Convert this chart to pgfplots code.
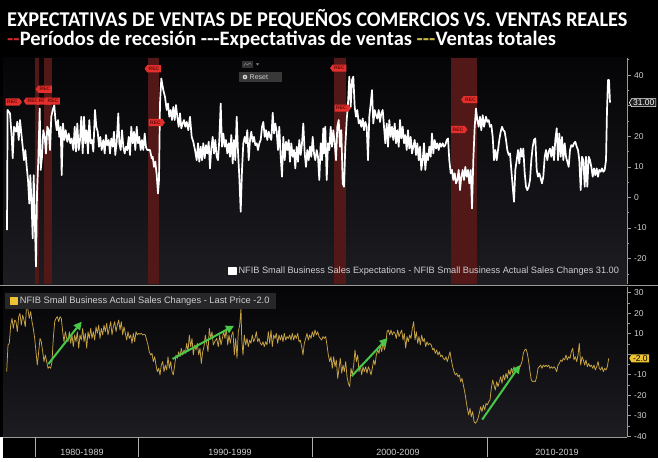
\documentclass[border=0pt]{standalone}
\usepackage{pgfplots}
\pgfplotsset{compat=1.18}
\usepackage{fontspec}
\setmainfont{Liberation Sans}
\newfontfamily\titlefont{Carlito}
\usetikzlibrary{shapes.symbols,arrows.meta}
\definecolor{bgtop}{HTML}{050507}
\definecolor{bgbot}{HTML}{1C1C21}
\definecolor{band}{HTML}{521818}
\definecolor{recred}{HTML}{E3302C}
\definecolor{recdark}{HTML}{6A0A0A}
\definecolor{gold}{HTML}{C9A445}
\definecolor{goldbox}{HTML}{EDC233}
\definecolor{axgray}{HTML}{9A9A9A}
\definecolor{txtgray}{HTML}{CFCFCF}
\definecolor{legbox}{HTML}{27272A}
\definecolor{arrowgreen}{HTML}{48C848}
\definecolor{titlered}{HTML}{D02828}
\definecolor{titleyellow}{HTML}{C8B84A}
\tikzset{rec/.style={shape=signal, fill=recred, draw=none, inner xsep=1.6pt, inner ysep=1.8pt,
  font=\fontsize{5}{5}\selectfont\bfseries, text=recdark, signal pointer angle=110}}
\begin{document}
\begin{tikzpicture}[x=1pt,y=1pt]
\useasboundingbox (0,0) rectangle (658,461);
\fill[black] (0,0) rectangle (658,461);
\shade[top color=bgtop, bottom color=bgbot] (3,177) rectangle (627,403);
\shade[top color=bgtop, bottom color=bgbot] (3,24) rectangle (627,174);
% titles
\node[anchor=base west, inner sep=0, text=white] at (7,434.3)
  {\scalebox{0.97}[1]{\titlefont\bfseries\fontsize{21}{21}\selectfont EXPECTATIVAS DE VENTAS DE PEQUEÑOS COMERCIOS VS. VENTAS REALES}};
\node[anchor=base west, inner sep=0] at (7,415.3)
  {\titlefont\bfseries\fontsize{20.5}{21}\selectfont\textcolor{titlered}{-{}-}\textcolor{white}{Períodos de recesión -{}-{}-Expectativas de ventas }\textcolor{titleyellow}{-{}-{}-}\textcolor{white}{Ventas totales}};

% ---------------- top panel ----------------
\begin{axis}[
  at={(3pt,177pt)}, anchor=south west, width=624pt, height=226pt, scale only axis,
  xmin=3, xmax=627, ymin=-28.3, ymax=45.6,
  axis line style={draw=none},
  xtick=\empty,
  ytick={-20,-10,0,10,20,30,40}, yticklabels={-20,-10,0,10,20,{},40},
  minor ytick={-25,-15,-5,5,15,25,35,45},
  ytick pos=right, yticklabel pos=right, tick align=outside,
  major tick length=4pt, minor tick length=2pt,
  tick style={axgray, line width=0.7pt},
  yticklabel style={font=\fontsize{8.5}{9}\selectfont, text=txtgray, inner sep=1pt, xshift=2pt},
  clip=false,
  legend style={at={(rel axis cs:0.36,0.058)}, anchor=west, fill=none, draw=none,
    text=txtgray, font=\fontsize{9.2}{10}\selectfont, inner sep=0pt},
  legend image code/.code={\fill[white] (0pt,-3.5pt) rectangle (7pt,3.5pt);},
]
% recession bands
\addplot[fill=band, draw=none, forget plot] coordinates {(35,-28.3) (39,-28.3) (39,45.6) (35,45.6)} --cycle;
\addplot[fill=band, draw=none, forget plot] coordinates {(44.3,-28.3) (51.7,-28.3) (51.7,45.6) (44.3,45.6)} --cycle;
\addplot[fill=band, draw=none, forget plot] coordinates {(148.3,-28.3) (159.3,-28.3) (159.3,45.6) (148.3,45.6)} --cycle;
\addplot[fill=band, draw=none, forget plot] coordinates {(334,-28.3) (346,-28.3) (346,45.6) (334,45.6)} --cycle;
\addplot[fill=band, draw=none, forget plot] coordinates {(451,-28.3) (476.7,-28.3) (476.7,45.6) (451,45.6)} --cycle;
% sales expectations
\addplot[white, line width=1.7pt, line join=round] coordinates {
(7.0,-10.7)(7.6,28.6)(10.0,27.5)(11.7,19.8)(12.7,12.8)(14.0,23.1)(16.0,21.5)(17.3,24.8)(18.7,18.8)(20.0,25.3)
(21.7,19.8)(22.7,16.6)(24.0,12.2)(25.3,15.5)(26.7,10)(28.0,5.7)(29.3,-2)(30.3,7.3)(31.7,-3)(32.7,-13.4)
(33.7,7.3)(34.7,-6.3)(36.0,-22.6)(37.0,1.3)(38.3,12.2)(39.7,29.1)(40.7,9)(42.0,13.3)(43.3,22)(44.7,19.8)
(46.0,14.4)(47.3,23.1)(48.7,22)(50.0,15.5)(51.3,26.4)(52.7,28.6)(54.3,30.2)(55.3,25.8)(56.7,22)(58.0,25.3)
(59.3,19.8)(60.7,23.1)(61.7,7.3)(63.0,24.2)(64.3,18.8)(65.7,22)(67.3,18.2)(68.7,20.9)(70.3,17.7)(71.7,19.3)
(73.3,15.5)(74.7,23.1)(76.0,15)(77.3,24.2)(78.7,15.5)(80.0,18.8)(81.3,26.4)(82.7,14.4)(84.0,26.4)(85.3,17.7)
(86.7,22)(88.0,14.4)(89.3,25.3)(90.7,17.7)(92.0,18.8)(93.3,15)(95.0,28.6)(96.3,23.1)(97.7,21.5)(99.0,16.6)
(100.3,19.8)(101.7,15.5)(103.3,18.8)(104.7,14.4)(106.0,20.4)(107.3,17.1)(108.7,18.8)(110.0,14.4)(111.3,19.3)(112.7,16.6)
(114.0,21.5)(115.3,13.9)(116.7,18.2)(118.3,27.5)(119.3,17.7)(120.7,15.5)(122.0,22)(123.3,16.6)(124.7,14.4)(126.0,16.6)
(127.3,15.5)(128.7,19.8)(130.0,13.9)(131.3,23.1)(132.7,17.7)(134.0,21.5)(135.3,15.5)(136.7,23.1)(138.0,17.7)(139.3,19.8)
(140.7,15.5)(142.0,18.8)(143.3,15.5)(144.7,20.9)(146.0,16.4)(147.3,15.5)(148.7,15.5)(150.0,15.5)(151.7,12.8)(152.7,13.3)
(154.0,10)(155.3,11.7)(156.7,7.3)(158.0,1.3)(159.0,5.7)(160.0,30.7)(161.3,38.9)(163.3,35.1)(165.0,32.9)(166.7,28.6)
(168.0,30.7)(169.3,26.4)(170.7,28.6)(172.0,25.3)(173.3,29.6)(174.7,25.3)(176.0,30.2)(177.3,26.4)(178.7,23.1)(180.0,27.5)
(181.3,22.6)(182.7,24.2)(184.0,25.3)(185.3,23.1)(186.7,24.7)(188.3,22)(190.0,26.4)(191.7,19.8)(193.3,18.2)(195.0,15.5)
(196.7,12.2)(198.0,17.7)(199.3,11.7)(200.7,16.6)(202.0,12.2)(203.3,17.7)(204.7,12.8)(206.0,17.1)(207.3,14.4)(208.7,18.2)
(210.0,9.5)(211.3,16)(212.7,19.8)(214.0,14.4)(215.3,18.8)(216.7,13.3)(218.0,12.2)(219.3,18.8)(220.7,30.7)(222.0,16.6)
(223.3,20.9)(224.7,16.6)(226.0,18.8)(227.3,14.4)(228.7,17.7)(230.0,13.3)(231.3,20.4)(232.7,11.1)(234.0,18.8)(235.3,12.2)
(236.7,26.4)(238.0,15)(239.3,6.8)(240.7,-4.7)(242.0,9)(243.3,17.7)(244.7,19.8)(246.0,17.7)(247.3,22)(248.7,12.2)
(250.0,18.8)(251.3,21.5)(252.7,18.2)(254.0,19.8)(255.3,17.1)(256.7,17.7)(258.0,15.5)(259.3,17.7)(260.7,18.8)(262.0,23.1)
(263.3,24.7)(264.7,19.8)(266.0,22)(267.3,18.8)(268.7,21.5)(270.0,19.8)(271.3,18.8)(272.7,27.7)(274.0,20.9)(275.3,24.2)
(276.7,21.5)(278.0,15.5)(279.3,23.1)(280.7,13.3)(282.0,6.8)(283.3,19.8)(284.7,12.2)(286.0,18.2)(287.3,15.5)(288.7,18.8)
(290.0,11.7)(291.3,17.7)(292.7,13.3)(294.0,15.5)(295.3,9.5)(296.7,16.6)(298.0,11.7)(299.3,18.8)(300.7,13.9)(302.0,17.7)
(303.3,24.2)(304.7,14.4)(306.0,10)(307.3,15.5)(308.7,12.2)(310.0,16.6)(311.3,13.3)(312.7,19.8)(314.0,14.4)(315.3,12.2)
(316.7,15.5)(318.0,13.3)(319.3,5.7)(320.7,17.7)(322.0,12.2)(323.3,22.6)(324.0,14.4)(325.3,23.1)(326.7,5.7)(328.0,17.7)
(329.3,15.5)(330.7,23.1)(332.0,16.6)(333.3,22)(334.7,17.7)(336.0,12.2)(337.3,23.1)(338.7,25.3)(340.0,16.6)(341.3,22)
(342.7,4.6)(344.0,3.5)(345.3,16.6)(346.7,25.3)(348.0,30.7)(349.3,39.5)(350.7,29.6)(352.0,38.4)(353.3,39.5)(354.7,29.6)
(356.0,26.4)(357.3,28.6)(358.7,24.2)(360.0,25.3)(361.3,23.1)(362.7,25.8)(364.0,22)(365.3,24.7)(366.7,23.1)(368.0,12.2)
(369.3,26.4)(370.7,30.7)(372.0,35.1)(373.3,24.2)(374.7,28.6)(376.0,26.9)(377.3,25.8)(378.7,28.6)(380.0,24.7)(381.3,27.5)
(382.7,28.6)(384.0,23.1)(385.3,17.7)(386.7,24.2)(388.0,16.6)(389.3,25.3)(390.7,19.8)(392.0,23.1)(393.3,18.8)(394.7,24.2)
(396.0,17.7)(397.3,22)(398.7,16.6)(400.0,25.3)(401.3,19.3)(402.7,23.1)(404.0,17.7)(405.3,20.4)(406.7,15.5)(408.0,22)
(409.3,16)(410.7,19.8)(412.0,14.4)(413.3,16.6)(414.7,18.8)(416.0,13.9)(417.3,17.7)(418.7,12.2)(420.0,16.6)(421.3,9)
(422.7,12.2)(424.0,17.7)(425.3,9)(426.7,14.4)(428.0,12.2)(429.3,16.6)(430.7,13.3)(432.0,20.9)(433.3,14.4)(434.7,18.8)
(436.0,16)(437.3,17.7)(438.7,15.5)(440.0,17.7)(441.3,16.6)(442.7,17.7)(444.0,16.6)(445.3,17.1)(446.7,18.8)(448.0,19.3)
(449.3,12.2)(450.7,7.9)(452.0,9)(453.3,5.7)(454.7,7.9)(456.0,4.6)(457.3,5.7)(458.7,9)(460.0,2.4)(461.3,6.8)
(462.7,9)(464.0,5.7)(465.3,10)(466.7,6.8)(468.0,9)(469.3,4.6)(470.7,9)(472.0,-3.6)(473.3,12.2)(474.7,23.1)
(476.0,29.1)(477.3,25.3)(478.7,23.1)(480.0,26.4)(481.3,22)(482.7,26.9)(484.0,23.1)(486.0,26.4)(487.3,24.7)(488.7,25.3)
(490.0,23.1)(491.3,23.7)(492.7,19.8)(494.0,12.2)(495.3,15.5)(496.7,12.2)(498.0,15.5)(499.3,18.8)(500.7,21.5)(502.0,23.1)
(503.3,22)(504.7,21.5)(506.0,18.8)(507.3,15.5)(508.7,13.9)(510.0,14.4)(511.3,9)(512.7,3.5)(514.0,-1.4)(515.3,9)
(516.7,12.2)(518.0,15.5)(519.3,11.1)(520.7,16)(522.0,13.3)(523.3,16)(524.7,7.9)(526.0,3.5)(527.3,2.4)(528.7,3.5)
(530.0,5.7)(531.3,12.2)(532.7,16.6)(534.0,18.8)(535.3,19.3)(536.7,9)(538.0,6.8)(539.3,7.9)(540.7,6.2)(542.0,4.6)
(543.3,6.8)(544.7,13.3)(546.0,15.5)(547.3,12.2)(548.7,15)(550.0,16)(551.3,13.3)(552.7,16.6)(554.0,12.2)(555.3,18.8)
(556.7,22.6)(558.0,12.2)(559.3,20.9)(560.7,13.3)(562.0,19.8)(563.3,12.2)(564.7,17.7)(566.0,13.3)(567.3,11.7)(568.7,10)
(570.0,15.5)(571.3,17.1)(572.7,16.6)(574.0,17.7)(575.3,18.2)(576.7,16.6)(578.0,15.5)(579.3,12.2)(580.7,2.4)(582.0,13.3)
(583.3,12.2)(584.7,3.5)(586.0,13.3)(587.3,3.5)(588.7,13.3)(590.0,12.2)(591.3,10)(592.7,6.8)(594.0,9.5)(595.3,7.3)
(596.7,9.5)(598.0,6.8)(599.3,9)(600.7,8.4)(602.0,9.5)(603.3,8.4)(604.7,9)(606.0,12.2)(607.0,28.6)(608.0,38.4)
(609.0,38.4)(610.0,31.0)};
\addlegendentry{NFIB Small Business Sales Expectations - NFIB Small Business Actual Sales Changes 31.00}
% REC tags
\node[rec, signal to=east] at (axis cs:12.5,31.2) {REC};
\node[rec, signal to=west] at (axis cs:33,31.5) {REC};
\node[rec, signal to=east] at (axis cs:44,31.5) {REC};
\node[rec, signal to=west] at (axis cs:53,31.5) {REC};
\node[rec, signal to=west] at (axis cs:45,35.4) {REC};
\node[rec, signal to=west] at (axis cs:154,42.1) {REC};
\node[rec, signal to=east] at (axis cs:155.5,24.5) {REC};
\node[rec, signal to=west] at (axis cs:339.5,42.3) {REC};
\node[rec, signal to=east] at (axis cs:341.5,29.2) {REC};
\node[rec, signal to=east] at (axis cs:458,22.2) {REC};
\node[rec, signal to=west] at (axis cs:470.5,32) {REC};
\draw[axgray, line width=0.8pt] (rel axis cs:1,0) -- (rel axis cs:1,1);
\coordinate (lastT) at (axis cs:629,31);
\end{axis}

% ---------------- bottom panel ----------------
\begin{axis}[
  at={(3pt,24pt)}, anchor=south west, width=624pt, height=150pt, scale only axis,
  xmin=3, xmax=627, ymin=-40.4, ymax=32.8,
  axis line style={draw=none},
  xtick=\empty,
  minor xtick={12,23.4,46.6,58.2,69.8,81.4,93,104.6,116.2,127.8,
    155.5,172.9,190.4,207.8,225.3,242.7,260.2,277.6,295.1,
    330,347.4,364.8,382.3,399.7,417.2,434.6,452.1,469.5,
    504.5,521.9,539.4,556.8,574.3,591.7,609.2},
  xtick pos=bottom,
  ytick={-40,-30,-20,-10,0,10,20,30}, yticklabels={-40,-30,-20,-10,{},10,20,30},
  minor ytick={-35,-25,-15,-5,5,15,25},
  ytick pos=right, yticklabel pos=right, tick align=outside,
  major tick length=4pt, minor tick length=2.5pt,
  tick style={axgray, line width=0.7pt},
  yticklabel style={font=\fontsize{8.5}{9}\selectfont, text=txtgray, inner sep=1pt, xshift=2pt},
  clip=false,
  legend style={at={(rel axis cs:0.003,0.963)}, anchor=north west, fill=legbox, draw=none,
    text=txtgray, font=\fontsize{9.3}{10}\selectfont, inner xsep=5pt, inner ysep=2pt},
  legend image code/.code={\fill[goldbox] (0pt,-3.5pt) rectangle (7pt,3.5pt);},
]
\addplot[gold, line width=0.75pt, line join=round] coordinates {
(6.7,-8.5)(8.0,4.5)(9.3,5.3)(10.7,14.2)(12.0,17.5)(13.3,12.6)(14.7,16.7)(16.0,15.9)(17.3,11)(18.7,18.3)
(20.0,19.9)(21.3,14.2)(22.7,19.1)(24.0,16.7)(25.3,13.4)(26.7,24.8)(28.0,21.6)(29.3,17.5)(30.7,20.8)(32.0,15.9)
(33.3,12.6)(34.7,7.7)(36.0,1.2)(37.3,-5.3)(38.7,1.2)(40.0,7.7)(41.3,6.1)(42.7,1.2)(44.0,-3.6)(45.3,-0.4)
(46.7,-3.6)(48.0,-6.9)(49.3,-6.1)(50.7,-6.9)(52.0,-3.6)(53.3,7.7)(54.7,15.9)(56.0,17.5)(57.3,18.3)(58.7,15.9)
(60.0,18.3)(61.3,17.5)(62.7,11)(64.0,6.1)(65.3,11)(66.7,7.7)(68.0,6.1)(69.3,11)(70.7,5.3)(72.0,9.4)
(73.3,3.7)(74.7,9.4)(76.0,6.1)(77.3,11)(78.7,2.9)(80.0,9.4)(81.3,6.9)(82.7,12.6)(84.0,6.1)(85.3,10.2)
(86.7,2.9)(88.0,11)(89.3,7.7)(90.7,12.6)(92.0,7.7)(93.3,11)(94.7,6.9)(96.0,13.4)(97.3,10.2)(98.7,14.2)
(100.0,7.7)(101.3,12.6)(102.7,9.4)(104.0,14.2)(105.3,11)(106.7,15.1)(108.0,9.4)(109.3,12.6)(110.7,15.9)(112.0,9.4)
(113.3,13.4)(114.7,15.9)(116.0,11)(117.3,14.2)(118.7,16.7)(120.0,11.8)(121.3,15.9)(122.7,9.4)(124.0,13.4)(125.3,10.2)
(126.7,6.9)(128.0,11)(129.3,7.7)(130.7,9.4)(132.0,5.3)(133.3,10.2)(134.7,6.1)(136.0,11)(137.3,9.4)(138.7,10.2)
(140.0,9.7)(141.3,10.2)(142.7,9.4)(144.0,9.7)(145.3,9.4)(146.7,6.9)(148.0,4.5)(149.3,1.2)(150.7,-0.4)(152.0,0.4)
(153.3,-3.6)(154.7,-1.2)(156.0,-5.3)(157.3,-8.5)(158.7,-6.9)(160.0,-10.1)(161.3,-5.3)(162.7,-3.6)(164.0,-8.5)(165.3,-5.3)
(166.7,-7.7)(168.0,-1.2)(169.3,-6.9)(170.7,-3.6)(172.0,-8.5)(173.3,-10.1)(174.7,-5.3)(176.0,-0.4)(177.3,-2)(178.7,1.2)
(180.0,-1.2)(181.3,2.9)(182.7,-0.4)(184.0,2.1)(185.3,0.4)(186.7,5.3)(188.0,1.2)(189.3,9.4)(190.7,3.7)(192.0,7.7)
(193.3,-0.4)(194.7,4.5)(196.0,2.1)(197.3,5.3)(198.7,-0.4)(200.0,2.9)(201.3,-4.5)(202.7,1.2)(204.0,3.7)(205.3,9.4)
(206.7,5.3)(208.0,1.2)(209.3,12.6)(210.7,7.7)(212.0,11)(213.3,4.5)(214.7,6.1)(216.7,7.7)(218.3,3.7)(219.7,9.4)
(221.0,4.5)(222.3,7.7)(223.7,11)(225.0,7.7)(226.3,12.6)(227.7,4.5)(229.0,9.4)(230.3,5.3)(231.7,9.4)(233.0,11)
(234.3,-0.4)(235.7,7.7)(237.0,-2)(238.3,11)(239.7,14.2)(241.0,22.4)(241.7,7.7)(243.0,-0.4)(244.3,9.4)(245.7,4.5)
(247.0,7.7)(248.3,3.7)(249.7,6.9)(251.0,5.3)(252.3,9.4)(253.7,6.1)(255.0,7.7)(256.3,11)(257.7,6.1)(259.0,7.7)
(260.3,5.3)(261.7,4.5)(263.0,6.1)(264.3,3.7)(265.7,6.1)(267.0,4.5)(268.3,11)(269.7,5.3)(271.0,11.8)(272.3,3.7)
(273.7,9.4)(275.0,7.7)(276.3,10.2)(277.7,5.3)(279.0,9.4)(280.3,6.9)(281.7,9.4)(283.0,6.1)(284.3,10.2)(285.7,6.9)
(287.0,8.6)(288.3,7.7)(289.7,9.4)(291.0,6.9)(292.3,10.2)(293.7,6.9)(295.0,9.4)(296.3,7.7)(297.7,10.2)(299.0,6.1)
(300.3,6.9)(301.7,3.7)(303.0,-0.4)(304.3,5.3)(305.7,7.7)(307.0,10.2)(308.3,6.9)(309.7,9.4)(311.0,7.7)(312.3,11)
(313.7,8.6)(315.0,11.8)(316.3,9.4)(317.7,11)(319.0,8.6)(320.3,7.7)(321.7,6.9)(323.0,8.6)(324.3,7.7)(325.7,8.6)
(327.0,4.5)(328.3,-0.4)(329.7,-3.6)(331.0,-1.2)(332.3,-6.9)(333.7,-1.2)(335.0,-6.1)(336.3,-2.8)(337.7,-11.8)(339.0,-6.9)
(340.3,-2)(341.7,-9.3)(343.0,-5.3)(344.3,-8.5)(345.7,-3.6)(347.0,-11)(348.3,-14.2)(349.7,-15.8)(351.0,-6.9)(352.3,-10.1)
(353.7,-5.3)(355.0,2.1)(356.3,-3.6)(357.7,-0.4)(359.0,-8.5)(360.3,-5.3)(361.7,-10.1)(363.0,-6.1)(364.3,-8.5)(365.7,-6.1)
(367.0,-9.3)(368.3,-6.1)(369.7,-7.7)(371.0,-10.1)(372.3,-6.9)(373.7,-2.8)(375.0,-5.3)(376.3,-0.4)(377.7,2.1)(379.0,0.4)
(380.3,4.5)(381.7,1.2)(383.0,6.1)(384.3,2.1)(385.7,4.5)(387.0,11)(388.3,11.8)(389.7,9.4)(391.0,11.8)(392.3,9.4)
(393.7,11)(395.0,10.2)(396.3,7.7)(397.7,11.8)(399.0,8.6)(400.3,10.2)(401.7,11.8)(403.0,6.9)(404.3,10.2)(405.7,2.9)
(407.0,8.6)(408.3,6.1)(409.7,9.4)(411.0,7.7)(412.3,12.6)(413.7,15.9)(415.0,6.9)(416.3,11)(417.7,5.3)(419.0,8.6)
(420.3,4.5)(421.7,9.4)(423.0,6.1)(424.3,7.7)(425.7,3.7)(427.0,6.1)(428.3,4.5)(429.7,5.3)(431.3,4.5)(432.7,2.1)
(434.0,2.9)(435.3,0.4)(436.7,2.1)(438.0,-0.4)(439.3,1.2)(440.7,-1.2)(442.0,-0.4)(443.3,-2)(444.7,-2.8)(446.0,-1.2)
(447.3,-3.6)(448.7,-1.2)(450.0,1.2)(451.3,-2.8)(452.7,-6.1)(454.0,-8.5)(455.3,-10.1)(456.7,-9.3)(458.0,-11)(459.3,-10.1)
(460.7,-13.4)(462.0,-11.8)(463.3,-15)(464.7,-18.3)(466.0,-22.3)(467.3,-26.4)(468.7,-29.7)(470.0,-26.4)(471.3,-30.5)(472.7,-28)
(474.0,-32.9)(475.3,-33.7)(476.7,-32.9)(478.0,-31.3)(479.3,-28.8)(480.7,-25.6)(482.0,-28)(483.3,-24.8)(484.7,-27.2)(486.0,-24)
(487.3,-24.8)(488.7,-23.2)(490.0,-22.3)(491.3,-16.6)(492.7,-12.6)(494.0,-15)(495.3,-17.5)(496.7,-13.4)(498.0,-15.8)(499.3,-13.4)
(500.7,-11)(502.0,-14.2)(503.3,-10.1)(504.7,-12.6)(506.0,-9.3)(507.3,-11.8)(508.7,-7.7)(510.0,-10.1)(511.3,-6.9)(512.7,-9.3)
(514.0,-6.1)(515.3,-8.5)(516.7,-6.9)(518.0,-9.3)(519.3,-6.9)(520.7,-5.3)(522.0,-3.6)(523.3,0.4)(524.7,2.1)(526.0,2.5)
(527.3,0.4)(528.7,-3.6)(530.0,-8.5)(531.3,-12.6)(532.7,-13.4)(534.0,-13.1)(535.3,-13.4)(536.7,-11)(538.0,-6.9)(539.3,-6.1)
(540.7,-5.3)(542.0,-6.9)(543.3,-5.3)(544.7,-6.1)(546.0,-5.3)(547.3,-6.1)(548.7,-5.3)(550.0,-6.9)(551.3,-6.1)(552.7,-6.9)
(554.0,-6.1)(555.3,-6.9)(556.7,-8.5)(558.0,-5.3)(559.3,-4.5)(560.7,-2.8)(562.0,-3.6)(563.3,-2)(564.7,-2.8)(566.0,-0.4)
(567.3,-2.8)(568.7,-1.2)(570.0,-2)(571.3,1.2)(572.7,2.9)(574.0,-2.8)(575.3,-1.2)(576.7,-3.6)(578.0,-0.4)(579.3,5.3)
(580.7,-5.3)(582.0,-1.2)(583.3,-2.8)(584.7,-5.3)(586.0,-2.8)(587.3,-6.1)(588.7,-4.5)(590.0,-6.1)(591.3,-5.3)(592.7,-6.9)
(594.0,-5.3)(595.3,-7.7)(596.7,-6.1)(598.0,-3.6)(599.3,-6.9)(600.7,-7.7)(602.0,-6.1)(603.3,-8.5)(604.7,-6.9)(606.0,-7.7)
(607.3,-6.1)(608.7,-2.0)};
\addlegendentry{NFIB Small Business Actual Sales Changes - Last Price -2.0}
% green trend arrows
\addplot[arrowgreen, line width=2pt, -{Triangle[length=8pt,width=8pt]}, forget plot] coordinates {(48.3,-4.8) (81.7,15.9)};
\addplot[arrowgreen, line width=2pt, -{Triangle[length=8pt,width=8pt]}, forget plot] coordinates {(172.5,-2.3) (234,13.9)};
\addplot[arrowgreen, line width=2pt, -{Triangle[length=8pt,width=8pt]}, forget plot] coordinates {(351.7,-10.7) (387.5,7.9)};
\addplot[arrowgreen, line width=2pt, -{Triangle[length=8pt,width=8pt]}, forget plot] coordinates {(482.2,-31.9) (520,-5.3)};
\draw[axgray, line width=0.8pt] (rel axis cs:1,0) -- (rel axis cs:1,1);
\coordinate (lastB) at (axis cs:629,-2);
\end{axis}

% axis decorations
\draw[axgray, line width=1.2pt] (0,175.5) -- (658,175.5);
\draw[axgray, line width=0.8pt] (0,24) -- (627,24);
\foreach \sx in {35,138,312.5,487} \draw[axgray!80, line width=0.7pt] (\sx,24) -- (\sx,4);
\foreach \cx/\lab in {82/1980-1989,230/1990-1999,398/2000-2009,557/2010-2019}
  \node[text=txtgray, font=\fontsize{9}{9}\selectfont, inner sep=0] at (\cx,9) {\lab};
\fill[white] (0,0) rectangle (658,3.5);
\fill[white] (0,0) rectangle (2.5,24);

% last value boxes
\node[shape=signal, signal to=west, signal pointer angle=120, fill=black!88, draw=white, line width=0.6pt,
  text=white, font=\fontsize{8.5}{9}\selectfont, inner xsep=1.5pt, inner ysep=1pt, anchor=west] at (lastT) {31.00};
\node[shape=signal, signal to=west, signal pointer angle=120, fill=goldbox, draw=none,
  text=black, font=\fontsize{8.5}{9}\selectfont, inner xsep=1.5pt, inner ysep=1pt, anchor=west] at (lastB) {-2.0};

% chart widget (icon + Reset)
\fill[black!80] (242,393) rectangle (253,400);
\draw[gray!90, line width=0.4pt] (243.5,395) -- (245.5,397.5) -- (247.5,396) -- (249.5,398) -- (251.5,396.5);
\fill[gray!90] (256,397.5) -- (259,397.5) -- (257.5,395.5) -- cycle;
\fill[black!78] (239,379) rectangle (282,389);
\fill[white!85!black] (245,384) circle (2.3);
\fill[black!78] (245,384) circle (0.9);
\node[anchor=west, text=txtgray, font=\fontsize{7}{7}\selectfont, inner sep=0] at (249.5,384) {Reset};
\end{tikzpicture}
\end{document}
